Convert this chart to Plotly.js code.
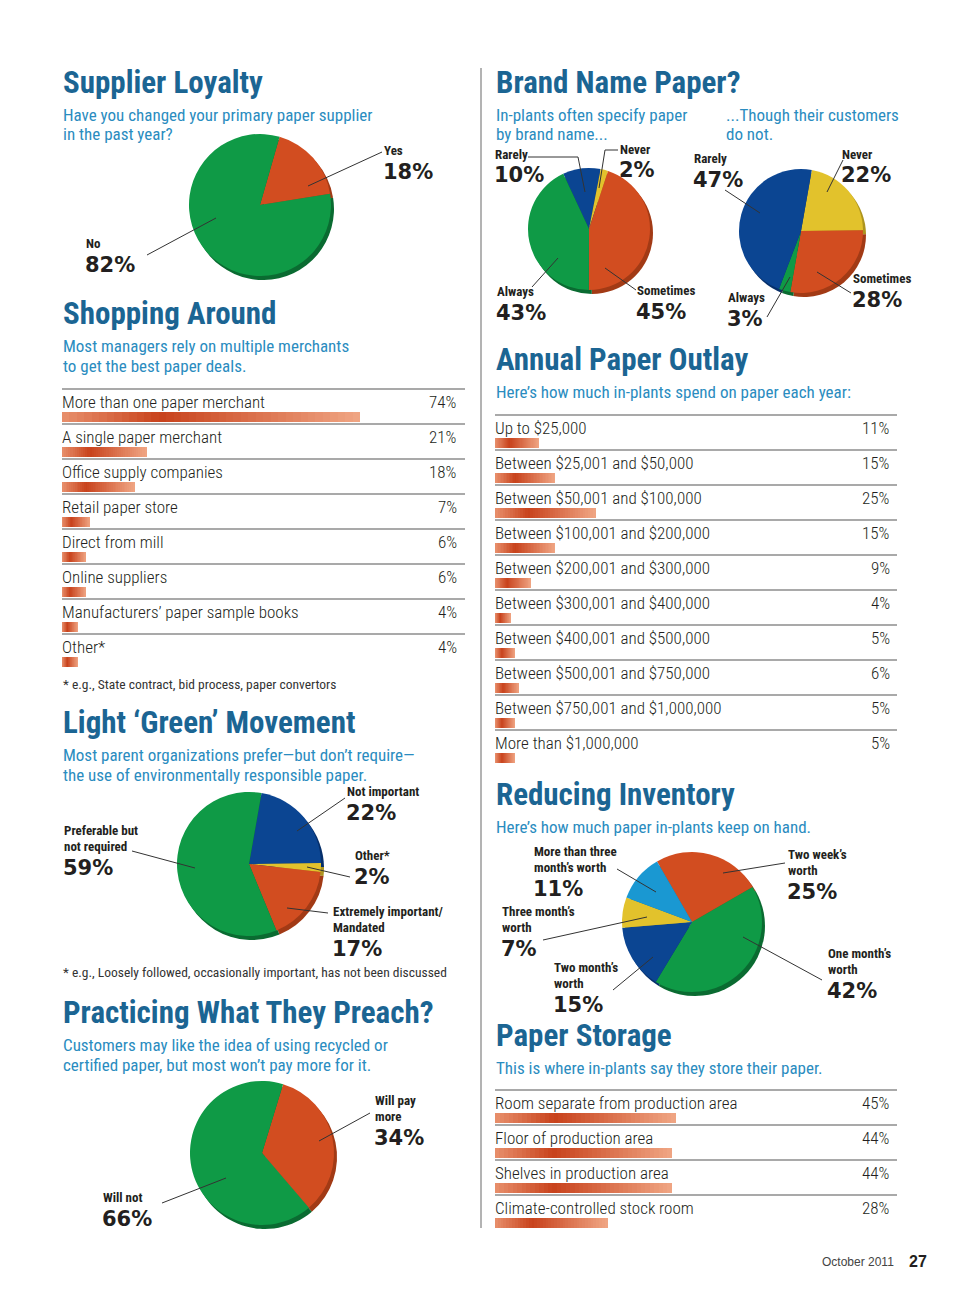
<!DOCTYPE html>
<html><head><meta charset="utf-8">
<script src="https://cdn.plot.ly/plotly-3.0.1.min.js"></script>
<style>html,body{margin:0;padding:0;background:#fff}#chart{width:960px;height:1298px}
.bars path{shape-rendering:crispEdges}</style>
</head><body><div id="chart"></div>
<script>
// ---------------- DATA ----------------
const loyaltyLabels = ['Yes', 'No'];
const loyaltyValues = [18, 82];

const brandInLabels = ['Rarely', 'Never', 'Sometimes', 'Always'];
const brandInValues = [10, 2, 45, 43];

const brandCustLabels = ['Never', 'Sometimes', 'Always', 'Rarely'];
const brandCustValues = [22, 28, 3, 47];

const greenLabels = ['Not important', 'Other*', 'Extremely important/|Mandated', 'Preferable but|not required'];
const greenValues = [22, 2, 17, 59];

const inventoryLabels = ['Two week’s|worth', 'One month’s|worth', 'Two month’s|worth', 'Three month’s|worth', 'More than three|month’s worth'];
const inventoryValues = [25, 42, 15, 7, 11];

const preachLabels = ['Will pay|more', 'Will not'];
const preachValues = [34, 66];

const shoppingLabels = ['More than one paper merchant', 'A single paper merchant', 'Office supply companies', 'Retail paper store',
  'Direct from mill', 'Online suppliers', 'Manufacturers’ paper sample books', 'Other*'];
const shoppingValues = [74, 21, 18, 7, 6, 6, 4, 4];

const outlayLabels = ['Up to $25,000', 'Between $25,001 and $50,000', 'Between $50,001 and $100,000', 'Between $100,001 and $200,000',
  'Between $200,001 and $300,000', 'Between $300,001 and $400,000', 'Between $400,001 and $500,000', 'Between $500,001 and $750,000',
  'Between $750,001 and $1,000,000', 'More than $1,000,000'];
const outlayValues = [11, 15, 25, 15, 9, 4, 5, 6, 5, 5];

const storageLabels = ['Room separate from production area', 'Floor of production area', 'Shelves in production area', 'Climate-controlled stock room'];
const storageValues = [45, 44, 44, 28];

// ---------------- STYLE ----------------
const W = 960, H = 1298;
const X = p => p / W, Y = p => 1 - p / H;
const NARROW = '"Roboto Condensed", Roboto, "DejaVu Sans Condensed", sans-serif';
const WIDE = '"DejaVu Sans", Verdana, sans-serif';
const SANS = '"Liberation Sans", Arial, sans-serif';
const TITLE_C = '#1b6593', SUB_C = '#2a8cc0', INK = '#231f20';
const GREEN = '#0f9a46', ORANGE = '#d24d20', BLUE = '#0b4592', YELLOW = '#e2c22c', LBLUE = '#1a98d2';
const SHADE = {};
SHADE[GREEN] = '#0a6b31'; SHADE[ORANGE] = '#a23a15'; SHADE[BLUE] = '#062f6a'; SHADE[YELLOW] = '#ad941e'; SHADE[LBLUE] = '#0f6e9c';

const annotations = [];
const shapes = [];
const traces = [];

function T(x, y, text, size, color, family, anchor, weight) {
  annotations.push({xref: 'paper', yref: 'paper', x: X(x), y: Y(y), text: text, showarrow: false,
    xanchor: anchor || 'left', yanchor: 'middle',
    font: {family: family || NARROW, size: size, color: color || INK, weight: weight || 'normal'}});
}
function L(pts, color, width) {
  for (let i = 0; i < pts.length - 1; i++) {
    shapes.push({type: 'line', xref: 'paper', yref: 'paper', x0: X(pts[i][0]), y0: Y(pts[i][1]), x1: X(pts[i + 1][0]), y1: Y(pts[i + 1][1]),
      line: {color: color || '#333', width: width || 1}});
  }
}

// ---------------- PIES ----------------
const pies = [
  {labels: loyaltyLabels, values: loyaltyValues, colors: [ORANGE, GREEN], rotation: 16, cx: 260, cy: 205, r: 71,
    place: [[383, 152], [85, 245]], leaders: [[[308, 186], [382, 152]], [[216, 218], [147, 255]]]},
  {labels: brandInLabels, values: brandInValues, colors: [BLUE, YELLOW, ORANGE, GREEN], rotation: -25, cx: 589, cy: 229, r: 61,
    place: [[494, 156], [619, 151], [636, 292], [496, 293]],
    leaders: [[[528, 157], [578, 157], [585, 192]], [[618, 150], [605, 150], [599, 188]], [[605, 268], [636, 290]], [[532, 287], [558, 258]]]},
  {labels: brandCustLabels, values: brandCustValues, colors: [YELLOW, ORANGE, GREEN, BLUE], rotation: 10, cx: 801, cy: 231, r: 62,
    place: [[841, 156], [852, 280], [727, 299], [693, 160]],
    leaders: [[[827, 192], [843, 160]], [[817, 272], [851, 293]], [[790, 277], [767, 317]], [[725, 190], [760, 213]]]},
  {labels: greenLabels, values: greenValues, colors: [BLUE, YELLOW, ORANGE, GREEN], rotation: 10, cx: 249, cy: 864, r: 72,
    place: [[346, 793], [354, 857], [332, 913], [63, 832]],
    leaders: [[[297, 831], [345, 798]], [[307, 867], [350, 877]], [[287, 908], [328, 913]], [[132, 851], [195, 868]]]},
  {labels: inventoryLabels, values: inventoryValues, colors: [ORANGE, GREEN, BLUE, YELLOW, LBLUE], rotation: -30, cx: 692, cy: 922, r: 70,
    place: [[787, 856], [827, 955], [553, 969], [501, 913], [533, 853]],
    leaders: [[[723, 873], [785, 863]], [[743, 937], [822, 980]], [[613, 990], [653, 957]], [[543, 940], [647, 917]], [[617, 869], [656, 892]]]},
  {labels: preachLabels, values: preachValues, colors: [ORANGE, GREEN], rotation: 17, cx: 262, cy: 1153, r: 72,
    place: [[374, 1102], [102, 1199]], leaders: [[[319, 1141], [370, 1113]], [[226, 1178], [162, 1203]]]}
];

function pieTrace(p, dx, dy, shade) {
  return {type: 'pie', values: p.values, labels: p.labels.map(l => l.replace('|', ' ') + (shade ? ' ' : '')),
    sort: false, direction: 'clockwise', rotation: p.rotation,
    marker: {colors: shade ? p.colors.map(c => SHADE[c]) : p.colors, line: {width: 0}},
    textinfo: 'none', hoverinfo: shade ? 'skip' : 'label+percent', showlegend: false,
    domain: {x: [X(p.cx + dx - p.r), X(p.cx + dx + p.r)], y: [Y(p.cy + dy + p.r), Y(p.cy + dy - p.r)]}};
}
pies.forEach(p => {
  traces.push(pieTrace(p, 3, 4, true));
  traces.push(pieTrace(p, 0, 0, false));
  p.labels.forEach((lab, i) => {
    const lines = lab.split('|');
    const [x, y] = p.place[i];
    lines.forEach((ln, k) => T(x - 1, y - 1.5 + 16 * k, ln, 13, INK, NARROW, 'left', 'bold'));
    T(x - 2, y + 16 * (lines.length - 1) + 19.5, p.values[i] + '%', 21, INK, WIDE, 'left', 'bold');
    L(p.leaders[i], '#333', 1);
  });
});

// ---------------- BAR TABLES ----------------
const ROW = 35, N = 40;
const stops = [[0, [232, 144, 108]], [0.33, [200, 66, 28]], [1, [240, 166, 132]]];
function grad(t) {
  for (let i = 0; i < stops.length - 1; i++) {
    const [t0, c0] = stops[i], [t1, c1] = stops[i + 1];
    if (t >= t0 && t <= t1) {
      const f = (t - t0) / (t1 - t0);
      return 'rgb(' + c0.map((c, j) => Math.round(c + (c1[j] - c) * f)).join(',') + ')';
    }
  }
  return 'rgb(240,166,132)';
}
const tables = [
  {labels: shoppingLabels, values: shoppingValues, ax: '', x0: 62, x1: 465, bar0: 417, pctX: 459},
  {labels: outlayLabels, values: outlayValues, ax: '2', x0: 495, x1: 897, bar0: 443, pctX: 892},
  {labels: storageLabels, values: storageValues, ax: '3', x0: 495, x1: 897, bar0: 1118, pctX: 892}
];
const axes = {};
tables.forEach(t => {
  const n = t.values.length;
  const top = t.bar0 - 0.9 * ROW, bot = t.bar0 + (n - 1 + 0.3) * ROW;
  const hid = {visible: false, showgrid: false, zeroline: false, fixedrange: true};
  axes['xaxis' + t.ax] = Object.assign({domain: [X(t.x0), X(t.x1)], range: [0, 100], anchor: 'y' + t.ax}, hid);
  axes['yaxis' + t.ax] = Object.assign({domain: [Y(bot), Y(top)], range: [n - 1 + 0.3, -0.9], anchor: 'x' + t.ax}, hid);
  const idx = t.values.map((v, i) => i);
  for (let k = 0; k < N; k++) {
    const c = grad((k + 0.5) / N);
    traces.push({type: 'bar', orientation: 'h', x: t.values.map(v => v / N), y: idx, width: 0.31,
      xaxis: 'x' + t.ax, yaxis: 'y' + t.ax, marker: {color: c, line: {width: 0}},
      hoverinfo: 'skip', showlegend: false});
  }
  t.labels.forEach((lab, i) => {
    shapes.push({type: 'line', xref: 'x' + t.ax, yref: 'y' + t.ax, x0: 0, x1: 100, y0: i - 0.8, y1: i - 0.8,
      line: {color: '#8c8c8c', width: 1.6}});
    annotations.push({xref: 'x' + t.ax, yref: 'y' + t.ax, x: 0, y: i - 0.43, text: lab, showarrow: false,
      xanchor: 'left', yanchor: 'middle', xshift: -2, font: {family: NARROW, size: 17, color: INK, weight: 300}});
    T(t.pctX, t.bar0 + (i - 0.43) * ROW, t.values[i] + '%', 17, INK, NARROW, 'right', 300);
  });
});

// ---------------- TITLES & TEXT ----------------
function title(x, y, s) { T(x - 2, y, s, 31, TITLE_C, NARROW, 'left', 'bold'); }
function sub(x, y, s) { T(x - 2, y, s, 17, SUB_C, NARROW, 'left', 'normal'); }

title(63, 82, 'Supplier Loyalty');
sub(63, 115, 'Have you changed your primary paper supplier');
sub(63, 134, 'in the past year?');

title(63, 313, 'Shopping Around');
sub(63, 346, 'Most managers rely on multiple merchants');
sub(63, 366, 'to get the best paper deals.');
T(61, 684, '* e.g., State contract, bid process, paper convertors', 13.5, '#333');

title(63, 722, 'Light ‘Green’ Movement');
sub(63, 755, 'Most parent organizations prefer—but don’t require—');
sub(63, 775, 'the use of environmentally responsible paper.');
T(61, 972, '* e.g., Loosely followed, occasionally important, has not been discussed', 13.5, '#333');

title(63, 1012, 'Practicing What They Preach?');
sub(63, 1045, 'Customers may like the idea of using recycled or');
sub(63, 1065, 'certified paper, but most won’t pay more for it.');

title(496, 82, 'Brand Name Paper?');
sub(496, 115, 'In-plants often specify paper');
sub(496, 134, 'by brand name...');
sub(726, 115, '...Though their customers');
sub(726, 134, 'do not.');

title(496, 359, 'Annual Paper Outlay');
sub(496, 392, 'Here’s how much in-plants spend on paper each year:');

title(496, 794, 'Reducing Inventory');
sub(496, 827, 'Here’s how much paper in-plants keep on hand.');

title(496, 1035, 'Paper Storage');
sub(496, 1068, 'This is where in-plants say they store their paper.');

T(896, 1262, 'October 2011', 12, '#444', SANS, 'right');
T(929, 1261, '27', 16, INK, SANS, 'right', 'bold');

// divider
L([[481, 68], [481, 1228]], '#9a9a9a', 1.5);

const layout = Object.assign({
  width: W, height: H, margin: {l: 0, r: 0, t: 0, b: 0}, paper_bgcolor: '#fff', plot_bgcolor: 'rgba(0,0,0,0)',
  barmode: 'stack', bargap: 0, showlegend: false, annotations: annotations, shapes: shapes
}, axes);

Plotly.newPlot('chart', traces, layout, {displayModeBar: false, staticPlot: true});
</script></body></html>
